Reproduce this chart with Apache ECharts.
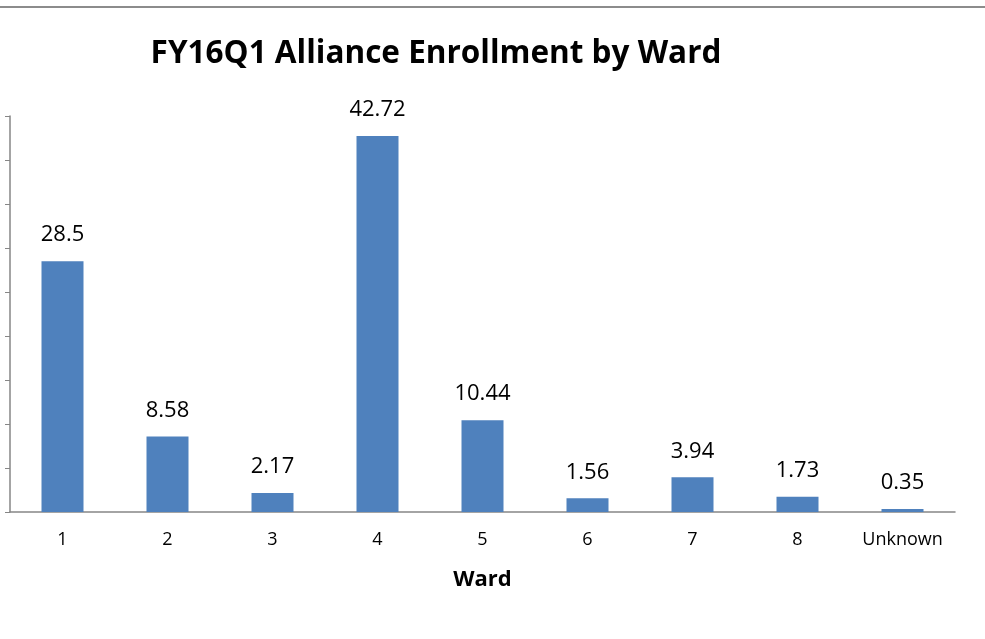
<!DOCTYPE html>
<html>
<head>
<meta charset="utf-8">
<script src="https://cdn.jsdelivr.net/npm/echarts@6/dist/echarts.min.js"></script>
<style>
html, body { margin: 0; padding: 0; background: #fff; }
#main { width: 985px; height: 639px; }
</style>
</head>
<body>
<div id="main"></div>
<script>
var wards = ['1', '2', '3', '4', '5', '6', '7', '8', 'Unknown'];
var enrollment = [28.5, 8.58, 2.17, 42.72, 10.44, 1.56, 3.94, 1.73, 0.35];

var myChart = echarts.init(document.getElementById('main'));
var font = '"Open Sans", "Liberation Sans", sans-serif';

var option = {
    animation: false,
    title: {
        text: 'FY16Q1 Alliance Enrollment by Ward',
        left: 431,
        textAlign: 'center',
        top: 33,
        textStyle: { fontFamily: font, fontSize: 31.5, fontWeight: 'bold', color: '#000' }
    },
    graphic: [{
        type: 'line',
        shape: { x1: 0, y1: 7, x2: 985, y2: 7 },
        style: { stroke: '#8c8c8c', lineWidth: 2 }
    }],
    grid: { left: 10, right: 30, top: 116, bottom: 127 },
    xAxis: {
        type: 'category',
        data: wards,
        name: 'Ward',
        nameLocation: 'middle',
        nameGap: 57,
        nameTextStyle: { fontFamily: font, fontSize: 22, fontWeight: 'bold', color: '#000' },
        axisLine: { lineStyle: { color: '#868686', width: 1.5 } },
        axisTick: { show: false },
        axisLabel: { fontFamily: font, fontSize: 18, color: '#000', margin: 19 }
    },
    yAxis: {
        type: 'value',
        min: 0,
        max: 45,
        interval: 5,
        splitLine: { show: false },
        axisLine: { show: true, lineStyle: { color: '#868686', width: 1.5 } },
        axisTick: { show: true, length: 5, lineStyle: { color: '#868686' } },
        axisLabel: { show: false }
    },
    series: [{
        type: 'bar',
        data: enrollment,
        barWidth: '40%',
        itemStyle: { color: '#4f81bd' },
        label: {
            show: true,
            position: 'top',
            distance: 15,
            fontFamily: font,
            fontSize: 22,
            color: '#000'
        }
    }]
};
myChart.setOption(option);
</script>
</body>
</html>
